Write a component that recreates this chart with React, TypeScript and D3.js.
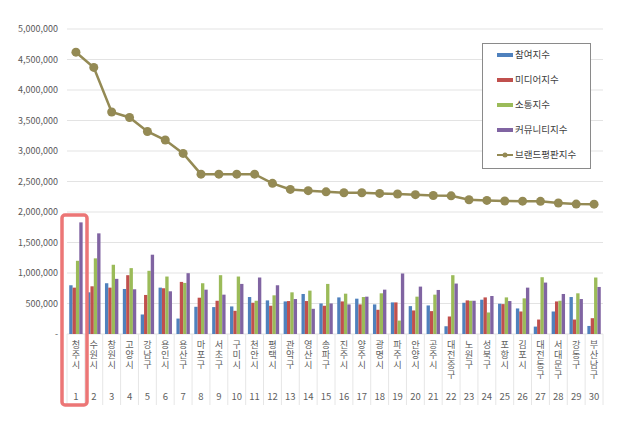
import React from "react";
import { scaleBand, scaleLinear, line as d3_line } from "d3";

const cities = [
  "청주시", "수원시", "창원시", "고양시", "강남구", "용인시", "용산구", "마포구", "서초구", "구미시",
  "천안시", "평택시", "관악구", "영산시", "송파구", "진주시", "양주시", "광명시", "파주시", "안양시",
  "공주시", "대전중구", "노원구", "성북구", "포항시", "김포시", "대전동구", "서대문구", "강동구", "부산남구",
];

const participation = [
  799000, 683000, 832000, 738000, 320000, 760000, 253000, 446000, 441000, 452000,
  606000, 551000, 534000, 656000, 501000, 600000, 579000, 485000, 518000, 457000,
  468000, 127000, 512000, 562000, 496000, 419000, 121000, 369000, 606000, 132000,
];
const media = [
  760000, 782000, 760000, 964000, 640000, 750000, 854000, 595000, 545000, 380000,
  512000, 463000, 540000, 540000, 463000, 534000, 485000, 397000, 518000, 386000,
  375000, 287000, 551000, 600000, 490000, 369000, 237000, 534000, 237000, 259000,
];
const communication = [
  1200000, 1240000, 1135000, 1080000, 1036000, 942000, 837000, 832000, 964000, 942000,
  545000, 634000, 683000, 711000, 821000, 661000, 606000, 667000, 220000, 612000,
  645000, 964000, 545000, 353000, 600000, 584000, 931000, 545000, 667000, 926000,
];
const community = [
  1830000, 1650000, 904000, 733000, 1300000, 700000, 997000, 727000, 645000, 821000,
  926000, 799000, 573000, 413000, 501000, 485000, 612000, 727000, 992000, 777000,
  722000, 827000, 545000, 623000, 540000, 760000, 843000, 656000, 573000, 771000,
];
const brand = [
  4620000, 4370000, 3640000, 3550000, 3320000, 3180000, 2960000, 2620000, 2620000, 2620000,
  2620000, 2470000, 2370000, 2350000, 2330000, 2316000, 2316000, 2305000, 2295000, 2284000,
  2270000, 2265000, 2200000, 2190000, 2180000, 2178000, 2175000, 2148000, 2130000, 2128000,
];

const yTicks = [0, 500000, 1000000, 1500000, 2000000, 2500000, 3000000, 3500000, 4000000, 4500000, 5000000];

const barSeries = [
  { name: "참여지수", color: "#4f81bd", values: participation },
  { name: "미디어지수", color: "#c0504d", values: media },
  { name: "소통지수", color: "#9bbb59", values: communication },
  { name: "커뮤니티지수", color: "#8064a2", values: community },
];
const lineSeries = { name: "브랜드평판지수", color: "#948a54", values: brand };

const W = 628;
const H = 427;
const left = 67;
const right = 603;
const top = 29;
const bottom = 334;
const font = "'Noto Sans CJK KR', 'Noto Sans', sans-serif";

export default function App() {
  const idx = cities.map((_, i) => i);
  const x = scaleBand<number>().domain(idx).range([left, right]).paddingInner(0.25).paddingOuter(0.125);
  const xi = scaleBand<number>().domain([0, 1, 2, 3]).range([0, x.bandwidth()]);
  const y = scaleLinear().domain([0, 5000000]).range([bottom, top]);
  const step = x.step();

  const line = d3_line<number>()
    .x((_, i) => (x(i) ?? 0) + x.bandwidth() / 2)
    .y((d) => y(d));

  const fmt = (v: number) => (v === 0 ? "-" : v.toLocaleString("en-US"));
  const x0 = (x(0) ?? 0) - (step - x.bandwidth()) / 2;

  return (
    <svg
      width={W}
      height={H}
      style={{ position: "absolute", left: 0, top: 0, background: "#fff" }}
      fontFamily={font}
    >
      {/* grid + y axis */}
      {yTicks.map((t) => (
        <g key={t}>
          {t > 0 && <line x1={left} x2={right} y1={y(t)} y2={y(t)} stroke="#e3e3e3" strokeWidth={1} />}
          <text x={58} y={y(t)} dy="0.35em" textAnchor="end" fontSize={9} fill="#595959">
            {fmt(t)}
          </text>
        </g>
      ))}
      <line x1={left} x2={right} y1={bottom} y2={bottom} stroke="#e3e3e3" />

      {/* category dividers */}
      {cities.map((_, i) => (
        <line
          key={i}
          x1={x0 + (i + 1) * step}
          x2={x0 + (i + 1) * step}
          y1={bottom}
          y2={405}
          stroke="#e6e6e6"
        />
      ))}
      <line x1={x0} x2={x0} y1={bottom} y2={405} stroke="#e6e6e6" />

      {/* bars */}
      {barSeries.map((s, si) => (
        <g key={s.name} fill={s.color}>
          {s.values.map((v, i) => (
            <rect
              key={i}
              x={(x(i) ?? 0) + (xi(si) ?? 0)}
              y={y(v)}
              width={xi.bandwidth()}
              height={bottom - y(v)}
            />
          ))}
        </g>
      ))}

      {/* line */}
      <path d={line(lineSeries.values) ?? ""} fill="none" stroke={lineSeries.color} strokeWidth={2.5} />
      {lineSeries.values.map((v, i) => (
        <circle key={i} cx={(x(i) ?? 0) + x.bandwidth() / 2} cy={y(v)} r={4.5} fill={lineSeries.color} />
      ))}

      {/* category labels, one character per row */}
      {cities.map((c, i) => {
        const cx = (x(i) ?? 0) + x.bandwidth() / 2;
        return (
          <g key={c} fill="#5f5f5f" textAnchor="middle">
            {c.split("").map((ch, k) => (
              <text key={k} x={cx} y={345 + k * 10} dy="0.35em" fontSize={9.2}>
                {ch}
              </text>
            ))}
            <text x={cx} y={397} dy="0.35em" fontSize={9.5}>
              {i + 1}
            </text>
          </g>
        );
      })}

      {/* highlight */}
      <rect x={62} y={215} width={25} height={190} rx={3} fill="none" stroke="#ec7676" strokeWidth={3.5} />

      {/* legend */}
      <rect x={482.5} y={43.5} width={108} height={125} fill="#fff" stroke="#8a8a8a" />
      {barSeries.map((s, i) => (
        <g key={s.name} transform={`translate(497,${55 + i * 25})`}>
          <rect x={0} y={-2} width={16} height={4} fill={s.color} />
          <text x={18} dy="0.35em" fontSize={9.5} fill="#404040">
            {s.name}
          </text>
        </g>
      ))}
      <g transform={`translate(497,${55 + 4 * 25})`}>
        <line x1={0} x2={16} stroke={lineSeries.color} strokeWidth={2} />
        <circle cx={8} r={2.5} fill={lineSeries.color} />
        <text x={18} dy="0.35em" fontSize={9.5} fill="#404040">
          {lineSeries.name}
        </text>
      </g>
    </svg>
  );
}
